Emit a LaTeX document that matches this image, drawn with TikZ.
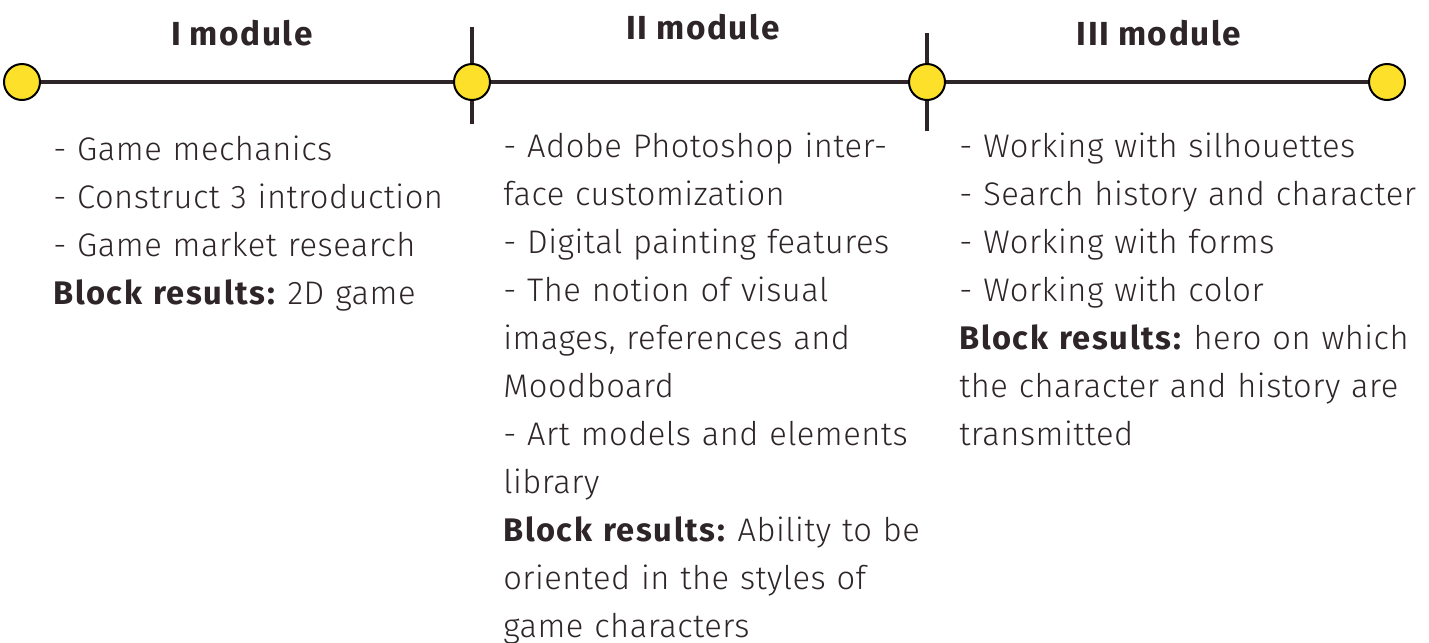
\documentclass[tikz,border=0pt]{standalone}
\usepackage{fontspec}
\usepackage{xcolor}
\setmainfont{Fira Sans}[UprightFont=* Light, BoldFont=* Bold,
    WordSpace=0.9, LetterSpace=1.5, BoldFeatures={LetterSpace=5}]
\definecolor{ink}{HTML}{2E2529}
\definecolor{sun}{HTML}{FCE02A}
\frenchspacing

\begin{document}
\begin{tikzpicture}[x=0.75pt,y=-0.75pt]
        \tikzset{stop/.append style={circle,
                    draw=black, fill=sun, line width=1.5pt,
                    minimum size=27pt, inner sep=0pt},
                 title/.append style={font=\fontsize{25}{30}\selectfont\bfseries,
                    text=ink, anchor=base},
                 topics/.append style={font=\fontsize{24.5}{36}\selectfont,
                    text=ink, anchor=base west, align=left,
                    text width=400pt, inner sep=0pt},
                 rail/.append style={draw=ink, line width=3pt}}
        \useasboundingbox (0,0) rectangle (1429,643);
        % ticks between modules
        \coordinate (t1a) at (472,27);
        \coordinate (t1b) at (472,124);
        \coordinate (t2a) at (927,33);
        \coordinate (t2b) at (927,131);
        \draw[rail] (t1a) -- (t1b);
        \draw[rail] (t2a) -- (t2b);
        \coordinate (s1) at (22,82);
        \coordinate (s4) at (1387,82);
        \draw[rail] (s1) -- (s4);
        \node[stop] (c1) at (s1) {};
        \node[stop] (c2) at (472,82) {};
        \node[stop] (c3) at (927,82) {};
        \node[stop] (c4) at (s4) {};
        % titles
        \node[title] (m1) at (242,45) {I module};
        \node[title] (m2) at (703,39) {II module};
        \node[title] (m3) at (1159,45) {III module};
        % contents
        \node[topics] (b1) at (53,160) {- Game mechanics\\
            - Construct 3 introduction\\
            - Game market research\\
            \textbf{Block results:} 2D game};
        \node[topics] (b2) at (503,157) {- Adobe Photoshop inter-\\
            face customization\\
            - Digital painting features\\
            - The notion of visual\\
            images, references and\\
            Moodboard\\
            - Art models and elements\\
            library\\
            \textbf{Block results:} Ability to be\\
            oriented in the styles of\\
            game characters};
        \node[topics] (b3) at (959,157) {- Working with silhouettes\\
            - Search history and character\\
            - Working with forms\\
            - Working with color\\
            \textbf{Block results:} hero on which\\
            the character and history are\\
            transmitted};
    \end{tikzpicture}
\end{document}
